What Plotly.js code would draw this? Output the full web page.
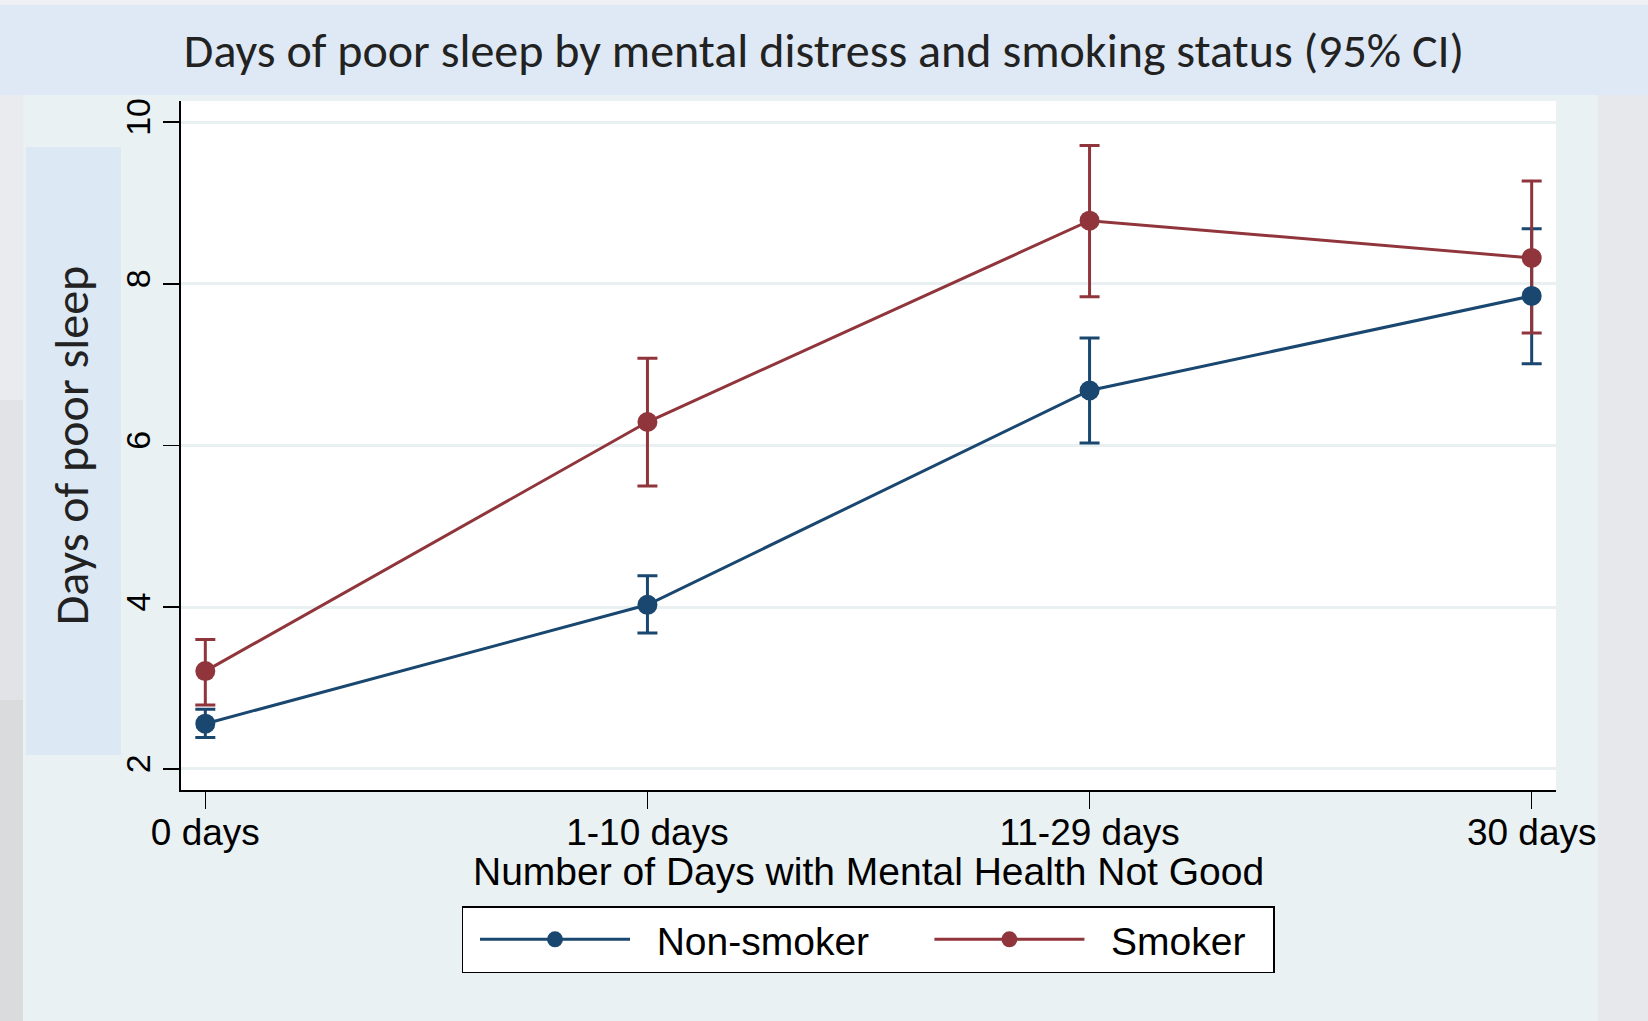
<!DOCTYPE html>
<html>
<head>
<meta charset="utf-8">
<script src="https://cdn.plot.ly/plotly-3.0.1.min.js"></script>
<style>
  html, body { margin: 0; padding: 0; background: #eaf1f2; }
  #chart { width: 1648px; height: 1021px; }
</style>
</head>
<body>
<div id="chart"></div>
<script>
// ---- data ----
const categories = ["0 days", "1-10 days", "11-29 days", "30 days"];
const seriesNames = ["Non-smoker", "Smoker"];
const nonSmokerMean  = [2.56, 4.03, 6.68, 7.85];
const nonSmokerLower = [2.39, 3.68, 6.03, 7.01];
const nonSmokerUpper = [2.74, 4.39, 7.33, 8.68];
const smokerMean  = [3.21, 6.29, 8.78, 8.32];
const smokerLower = [2.79, 5.50, 7.84, 7.39];
const smokerUpper = [3.60, 7.08, 9.71, 9.27];
const yTickVals = [2, 4, 6, 8, 10];
const chartTitle = "Days of poor sleep by mental distress and smoking status (95% CI)";
const xTitle = "Number of Days with Mental Health Not Good";
const yTitle = "Days of poor sleep";

// ---- styles ----
const NAVY = "#1a476f";
const MAROON = "#90353b";
const W = 1648, H = 1021;
const M = { l: 181, r: 92, t: 101, b: 231 };
const PW = W - M.l - M.r, PH = H - M.t - M.b;
const px = x => (x - M.l) / PW;
const py = y => (H - M.b - y) / PH;
const NB = "\u00a0";

function errTrace(mean, lo, hi, color) {
  return {
    x: categories, y: mean, type: "scatter", mode: "markers",
    marker: { size: 1, opacity: 0, color: color },
    showlegend: false, hoverinfo: "skip",
    error_y: {
      type: "data", symmetric: false,
      array: hi.map((v, i) => v - mean[i]),
      arrayminus: mean.map((v, i) => v - lo[i]),
      color: color, thickness: 3, width: 10
    }
  };
}
function lineTrace(label, mean, color) {
  return {
    x: categories, y: mean, type: "scatter", mode: "lines+markers",
    name: label,
    line: { color: color, width: 3 },
    marker: { color: color, size: 20, symbol: "circle" }
  };
}

const data = [
  errTrace(nonSmokerMean, nonSmokerLower, nonSmokerUpper, NAVY),
  errTrace(smokerMean, smokerLower, smokerUpper, MAROON),
  lineTrace(NB + NB + seriesNames[0] + NB + NB + NB + NB, nonSmokerMean, NAVY),
  lineTrace(NB + NB + seriesNames[1] + NB + NB, smokerMean, MAROON)
];

const calibri = "Carlito, 'Liberation Sans Narrow', 'Open Sans', sans-serif";
const arial = "'Liberation Sans', Arial, sans-serif";

const shapes = [
  { type: "rect", xref: "paper", yref: "paper", x0: px(0), x1: px(W), y0: py(5), y1: py(0),
    fillcolor: "#eef0f3", line: { width: 0 }, layer: "below" },
  { type: "rect", xref: "paper", yref: "paper", x0: px(0), x1: px(W), y0: py(95), y1: py(5),
    fillcolor: "#dee9f5", line: { width: 0 }, layer: "below" },
  { type: "rect", xref: "paper", yref: "paper", x0: px(0), x1: px(23), y0: py(400), y1: py(95),
    fillcolor: "#e9ebee", line: { width: 0 }, layer: "below" },
  { type: "rect", xref: "paper", yref: "paper", x0: px(0), x1: px(23), y0: py(700), y1: py(400),
    fillcolor: "#e2e3e6", line: { width: 0 }, layer: "below" },
  { type: "rect", xref: "paper", yref: "paper", x0: px(0), x1: px(23), y0: py(H), y1: py(700),
    fillcolor: "#dadbdd", line: { width: 0 }, layer: "below" },
  { type: "rect", xref: "paper", yref: "paper", x0: px(1598), x1: px(W), y0: py(H), y1: py(95),
    fillcolor: "#e6e8eb", line: { width: 0 }, layer: "below" },
  { type: "rect", xref: "paper", yref: "paper", x0: px(26), x1: px(121), y0: py(755), y1: py(147),
    fillcolor: "#dce8f4", line: { width: 0 }, layer: "below" }
];

const layout = {
  width: W, height: H,
  margin: M,
  paper_bgcolor: "#eaf1f2",
  plot_bgcolor: "#ffffff",
  showlegend: true,
  title: {
    text: chartTitle,
    font: { family: calibri, size: 48, color: "#222222" },
    xref: "container", x: 0.5, xanchor: "center",
    yref: "container", y: 1 - 50 / H, yanchor: "middle"
  },
  xaxis: {
    type: "category",
    range: [-0.055, 3.055],
    showgrid: false, zeroline: false,
    showline: true, linecolor: "#000000", linewidth: 1.6, mirror: false,
    ticks: "outside", ticklen: 17, tickwidth: 1.6, tickcolor: "#000000",
    ticklabelstandoff: -8,
    tickfont: { family: arial, size: 37, color: "#000000" }
  },
  yaxis: {
    range: [1.74, 10.26],
    tickvals: yTickVals,
    tickangle: -90,
    showgrid: true, gridcolor: "#e8f0f2", gridwidth: 3,
    zeroline: false,
    showline: true, linecolor: "#000000", linewidth: 1.6,
    ticks: "outside", ticklen: 16, tickwidth: 1.6, tickcolor: "#000000",
    tickfont: { family: arial, size: 34, color: "#000000" },
    title: {
      text: yTitle,
      font: { family: calibri, size: 48, color: "#222222" },
      standoff: 15
    }
  },
  annotations: [
    { xref: "paper", yref: "paper", x: 0.5, y: py(871), xanchor: "center", yanchor: "middle",
      text: xTitle, showarrow: false,
      font: { family: arial, size: 39, color: "#000000" } }
  ],
  legend: {
    orientation: "h",
    x: px(868), xanchor: "center",
    y: py(906), yanchor: "top",
    bgcolor: "#ffffff", bordercolor: "#000000", borderwidth: 1.5,
    font: { family: arial, size: 39, color: "#000000" },
    itemwidth: 150,
    indentation: 12,
    traceorder: "normal"
  },
  shapes: shapes
};

Plotly.newPlot("chart", data, layout, { displayModeBar: false, staticPlot: true });
</script>
</body>
</html>
